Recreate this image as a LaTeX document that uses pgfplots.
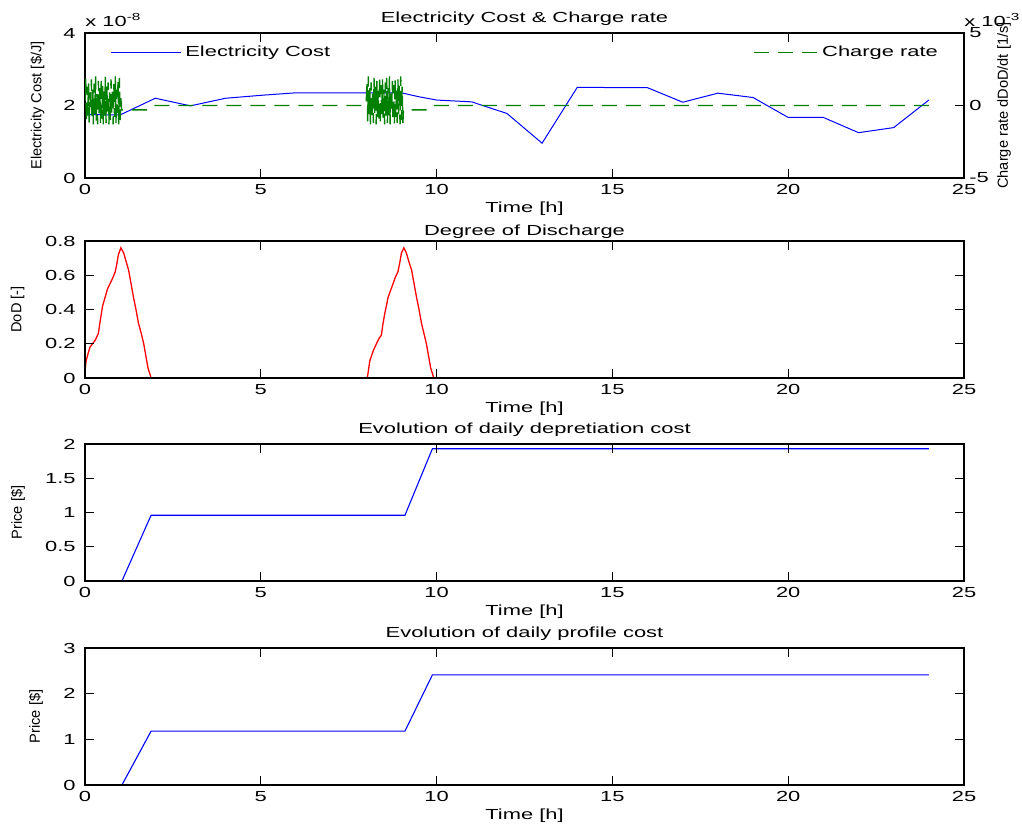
\documentclass[border=0pt]{standalone}
\usepackage{fontspec}
\setmainfont{Liberation Sans}[FakeStretch=1.5]
\newfontfamily\rotfont{Liberation Sans}
\usepackage{pgfplots}
\pgfplotsset{compat=1.18}
\definecolor{mgreen}{rgb}{0,0.5,0}
\pgfplotsset{
  mstyle/.style={
    scale only axis, width=439.5pt, height=68.5pt, anchor=south west,
    xmin=0, xmax=25, xtick={0,5,10,15,20,25},
    tick align=inside, major tick length=4.5pt,
    axis line style={line width=0.8pt},
    every tick/.style={black, line width=0.6pt},
    font=\fontsize{7.3}{8.8}\selectfont,
    /pgf/number format/assume math mode=true,
    scaled ticks=false,
    clip mode=individual,
    every axis title shift=0pt,
    xticklabel style={anchor=base, yshift=-8.5pt, inner sep=0pt},
    xlabel style={at={(axis description cs:0.5,0)}, anchor=base, yshift=-17.5pt, inner sep=0pt},
    title style={at={(axis description cs:0.5,1)}, anchor=base, yshift=5pt, inner sep=0pt},
    ylabel style={anchor=center, inner sep=0pt, font=\rotfont\fontsize{7.3}{8.8}\selectfont},
    axis on top,
    legend style={draw=none, fill=none, inner sep=0pt, font=\fontsize{7.3}{8.8}\selectfont},
    legend cell align=left,
  },
  lefty/.style={yticklabel style={anchor=east, xshift=-4.5pt, inner sep=0pt}},
}
\begin{document}
\begin{tikzpicture}
\path[use as bounding box] (0,0) rectangle (511pt,414pt);

% ---------- Plot 1 (left axis) ----------
\begin{axis}[mstyle, lefty, at={(42.5pt,325pt)}, height=72.5pt,
  ymin=0, ymax=4, ytick={0,2,4}, ytick pos=left, xtick pos=both,
  title={Electricity Cost \& Charge rate},
  xlabel={Time [h]},
  ylabel={Electricity Cost [\$/J]},
  ylabel style={at={(axis description cs:-0.054,0.5)}},
  legend style={at={(axis description cs:0.0284,0.864)}, anchor=west},
  legend image code/.code={\draw[#1] (0pt,0pt) -- (35pt,0pt);},
]
\addplot[blue, line width=0.5pt] coordinates {
(0,1.75) (1,1.74) (2,2.2) (3,1.99) (4,2.2) (5,2.28) (6,2.35) (9,2.35)
(9.5,2.24) (10,2.15) (11,2.10) (11.4,1.97) (12,1.78) (13,0.96) (14,2.50)
(16,2.49) (17,2.09) (18,2.34) (19,2.22) (20,1.67) (21,1.67) (22,1.25)
(23,1.39) (24,2.15)};
\addlegendentry{Electricity Cost}
\node[anchor=base west, inner sep=0pt] at (rel axis cs:0,1) [yshift=3pt] {x 10\textsuperscript{-8}};
\end{axis}

% ---------- Plot 1 (right axis) ----------
\begin{axis}[mstyle, at={(42.5pt,325pt)}, height=72.5pt,
  axis y line*=right, axis x line=none,
  ymin=-5, ymax=5, ytick={-5,0,5}, yticklabels={\mbox{-}5,0,5},
  yticklabel style={anchor=west, xshift=2.5pt, inner sep=0pt},
  ylabel={Charge rate dDoD/dt [1/s]},
  ylabel style={at={(axis description cs:1.0455,0.5)}},
  legend style={at={(axis description cs:0.760,0.864)}, anchor=west},
  legend image code/.code={\draw[#1] (0pt,0pt) -- (31.7pt,0pt);},
]
\addplot[mgreen, line width=0.7pt, dash pattern=on 7.5pt off 4.5pt] coordinates {
(0,0.3) (0.02,1.9) (0.04,-1.2) (0.06,1.3) (0.08,-0.7) (0.10,1.6) (0.12,-1.3)
(0.14,0.9) (0.16,-0.4) (0.18,1.8) (0.20,-1.0) (0.22,1.1) (0.24,-1.3) (0.26,1.5)
(0.28,-0.6) (0.30,2.0) (0.32,-1.1) (0.34,0.8) (0.36,-1.3) (0.38,1.7) (0.40,-0.5)
(0.42,1.2) (0.44,-1.2) (0.46,1.9) (0.48,-0.9) (0.50,1.4) (0.52,-1.3) (0.54,1.0)
(0.56,-0.7) (0.58,2.0) (0.60,-1.2) (0.62,1.3) (0.64,-0.4) (0.66,1.6) (0.68,-1.3)
(0.70,0.9) (0.72,-1.0) (0.74,1.8) (0.76,-0.6) (0.78,1.2) (0.80,-1.3) (0.82,1.5)
(0.84,-0.8) (0.86,2.0) (0.88,-1.2) (0.90,1.1) (0.92,-0.5) (0.94,1.7) (0.96,-1.3)
(0.98,1.9) (1.00,-1.0) (1.02,0.5)
(1.04,-0.3) (1.8,-0.3) (1.95,0) (8.0,0)
(8.00,0.2) (8.02,1.7) (8.04,-1.1) (8.06,2.0) (8.08,-0.6) (8.10,1.2) (8.12,-1.3)
(8.14,1.6) (8.16,-0.9) (8.18,0.9) (8.20,-1.2) (8.22,1.9) (8.24,-0.5) (8.26,1.3)
(8.28,-1.3) (8.30,1.7) (8.32,-0.8) (8.34,1.0) (8.36,-1.1) (8.38,2.0) (8.40,-1.3)
(8.42,1.4) (8.44,-0.6) (8.46,1.8) (8.48,-1.0) (8.50,1.1) (8.52,-1.3) (8.54,1.6)
(8.56,-0.7) (8.58,1.9) (8.60,-1.2) (8.62,1.2) (8.64,-0.9) (8.66,2.0) (8.68,-1.3)
(8.70,1.0) (8.72,-0.5) (8.74,1.7) (8.76,-1.1) (8.78,1.4) (8.80,-1.3) (8.82,1.9)
(8.84,-0.8) (8.86,1.2) (8.88,-1.2) (8.90,1.8) (8.92,-0.6) (8.94,1.5) (8.96,-1.3)
(8.98,2.0) (9.00,-1.0) (9.02,1.3) (9.04,-1.2)
(9.06,-0.3) (9.8,-0.3) (9.92,0) (24,0)};
\addlegendentry{Charge rate}
\node[anchor=base west, inner sep=0pt] at (rel axis cs:1,1) [yshift=3pt] {x 10\textsuperscript{-3}};
\end{axis}

% ---------- Plot 2 ----------
\begin{axis}[mstyle, lefty, at={(42.5pt,225pt)},
  ymin=0, ymax=0.8, ytick={0,0.2,0.4,0.6,0.8},
  title={Degree of Discharge}, title style={yshift=-2.5pt},
  xlabel={Time [h]},
  ylabel={DoD [-]},
  ylabel style={at={(axis description cs:-0.0768,0.5)}},
]
\addplot[red, line width=0.65pt] coordinates {
(0,0.035) (0.03,0.1) (0.14,0.18) (0.29,0.22) (0.38,0.26) (0.43,0.33) (0.5,0.42)
(0.57,0.47) (0.64,0.52) (0.71,0.55) (0.78,0.58) (0.86,0.62) (0.9,0.66) (0.95,0.72)
(1.02,0.76) (1.1,0.73) (1.17,0.68) (1.24,0.63) (1.31,0.55) (1.38,0.47) (1.45,0.40)
(1.52,0.32) (1.6,0.26) (1.67,0.2) (1.73,0.13) (1.79,0.06) (1.88,0)
(8.03,0) (8.1,0.1) (8.2,0.16) (8.29,0.2) (8.36,0.23) (8.43,0.25) (8.47,0.31)
(8.52,0.37) (8.57,0.42) (8.62,0.47) (8.69,0.51) (8.76,0.55) (8.83,0.59) (8.9,0.62)
(8.95,0.67) (9.0,0.73) (9.07,0.76) (9.14,0.73) (9.21,0.68) (9.29,0.63) (9.36,0.55)
(9.43,0.47) (9.5,0.40) (9.57,0.32) (9.64,0.26) (9.71,0.2) (9.77,0.13) (9.83,0.06) (9.92,0)};
\end{axis}

% ---------- Plot 3 ----------
\begin{axis}[mstyle, lefty, at={(42.5pt,123.5pt)},
  ymin=0, ymax=2, ytick={0,0.5,1,1.5,2},
  title={Evolution of daily depretiation cost},
  xlabel={Time [h]},
  ylabel={Price [\$]},
  ylabel style={at={(axis description cs:-0.0762,0.5)}},
]
\addplot[blue, line width=0.55pt] coordinates {
(1.05,0) (1.88,0.96) (9.1,0.96) (9.88,1.93) (24,1.93)};
\end{axis}

% ---------- Plot 4 ----------
\begin{axis}[mstyle, lefty, at={(42.5pt,21.5pt)},
  ymin=0, ymax=3, ytick={0,1,2,3},
  title={Evolution of daily profile cost},
  xlabel={Time [h]},
  ylabel={Price [\$]},
  ylabel style={at={(axis description cs:-0.0557,0.5)}},
]
\addplot[blue, line width=0.55pt] coordinates {
(1.05,0) (1.88,1.18) (9.1,1.18) (9.88,2.41) (24,2.41)};
\end{axis}
\end{tikzpicture}
\end{document}
